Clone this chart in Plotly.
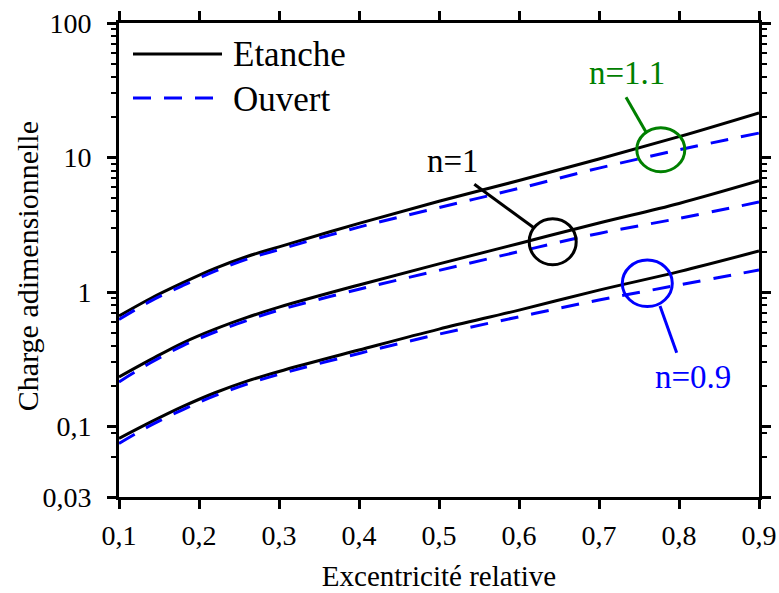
import plotly.graph_objects as go

# ---- data ----
x_ecc = [0.1, 0.14, 0.18, 0.22, 0.26, 0.3, 0.4, 0.5, 0.6, 0.7, 0.8, 0.9]

etanche_n11 = [0.664, 0.90, 1.175, 1.50, 1.84, 2.17, 3.24, 4.73, 6.75, 9.75, 14.3, 21.5]
ouvert_n11 = [0.627, 0.86, 1.12, 1.43, 1.76, 2.07, 3.04, 4.25, 5.90, 8.35, 11.4, 15.2]

etanche_n1 = [0.234, 0.316, 0.420, 0.530, 0.648, 0.773, 1.13, 1.62, 2.30, 3.26, 4.56, 6.72]
ouvert_n1 = [0.215, 0.300, 0.400, 0.505, 0.615, 0.735, 1.05, 1.45, 2.0, 2.73, 3.53, 4.67]

etanche_n09 = [0.0817, 0.1084, 0.1413, 0.1786, 0.218, 0.257, 0.371, 0.531, 0.735, 1.035, 1.42, 2.02]
ouvert_n09 = [0.075, 0.1025, 0.134, 0.170, 0.207, 0.245, 0.35, 0.487, 0.655, 0.873, 1.13, 1.46]

y_tickvals = [0.03, 0.1, 1, 10, 100]
y_ticktext = ["0,03", "0,1", "1", "10", "100"]
x_tickvals = [0.1, 0.2, 0.3, 0.4, 0.5, 0.6, 0.7, 0.8, 0.9]
x_ticktext = ["0,1", "0,2", "0,3", "0,4", "0,5", "0,6", "0,7", "0,8", "0,9"]
y_minor = [0.06, 0.09] + [m * 10 ** e for e in (-1, 0, 1) for m in range(2, 10)]

FONT = "Liberation Serif, Times New Roman, serif"
BLACK = "#000000"
BLUE = "#0000FF"
GREEN = "#008000"
DASH = "18px,13px"

W, H = 779, 593
L, R, T, B = 119, 759, 23, 497


def px(x):
    return (x - L) / (R - L)


def py(y):
    return (B - y) / (B - T)


fig = go.Figure()
series = [
    (etanche_n11, ouvert_n11, "n=1.1"),
    (etanche_n1, ouvert_n1, "n=1"),
    (etanche_n09, ouvert_n09, "n=0.9"),
]
for et, ou, name in series:
    fig.add_trace(go.Scatter(x=x_ecc, y=et, mode="lines", name="Etanche " + name,
                             line=dict(color=BLACK, width=3, shape="spline", smoothing=1.0),
                             showlegend=False))
    fig.add_trace(go.Scatter(x=x_ecc, y=ou, mode="lines", name="Ouvert " + name,
                             line=dict(color=BLUE, width=3, dash=DASH, shape="spline", smoothing=1.0),
                             showlegend=False))

shapes = []
annotations = []

# custom legend (long line samples as in the reference)
shapes.append(dict(type="line", xref="paper", yref="paper", x0=px(133), x1=px(222), y0=py(54), y1=py(54),
                   line=dict(color=BLACK, width=3)))
shapes.append(dict(type="line", xref="paper", yref="paper", x0=px(133), x1=px(222), y0=py(98), y1=py(98),
                   line=dict(color=BLUE, width=3, dash=DASH)))
annotations.append(dict(text="Etanche", xref="paper", yref="paper", x=px(231), y=py(55),
                        xanchor="left", yanchor="middle", showarrow=False,
                        font=dict(family=FONT, size=35, color=BLACK)))
annotations.append(dict(text="Ouvert", xref="paper", yref="paper", x=px(231), y=py(99),
                        xanchor="left", yanchor="middle", showarrow=False,
                        font=dict(family=FONT, size=35, color=BLACK)))

# y-axis title (placed as in the reference, slightly below the plot centre)
annotations.append(dict(text="Charge adimensionnelle", xref="paper", yref="paper", x=px(27.5), y=py(266.7),
                        xanchor="center", yanchor="middle", textangle=-90, showarrow=False,
                        font=dict(family=FONT, size=30, color=BLACK)))


# circles and leader lines
def circle(cx, cy, rx, ry, color):
    return dict(type="circle", xref="paper", yref="paper",
                x0=px(cx - rx), x1=px(cx + rx), y0=py(cy + ry), y1=py(cy - ry),
                line=dict(color=color, width=3))


def seg(x0, y0, x1, y1, color):
    return dict(type="line", xref="paper", yref="paper", x0=px(x0), x1=px(x1), y0=py(y0), y1=py(y1),
                line=dict(color=color, width=3))


shapes.append(circle(552.7, 241.7, 23.5, 23, BLACK))
shapes.append(seg(474.3, 184.3, 533.5, 227.5, BLACK))
shapes.append(circle(660.8, 149.7, 24, 22, GREEN))
shapes.append(seg(626, 97.3, 646.7, 133.3, GREEN))
shapes.append(circle(647.3, 283.3, 25, 23.3, BLUE))
shapes.append(seg(660, 306, 676.7, 352.7, BLUE))

annotations.append(dict(text="n=1", xref="paper", yref="paper", x=px(453), y=py(161),
                        xanchor="center", yanchor="middle", showarrow=False,
                        font=dict(family=FONT, size=33, color=BLACK)))
annotations.append(dict(text="n=1.1", xref="paper", yref="paper", x=px(626.5), y=py(72.5),
                        xanchor="center", yanchor="middle", showarrow=False,
                        font=dict(family=FONT, size=33, color=GREEN)))
annotations.append(dict(text="n=0.9", xref="paper", yref="paper", x=px(693), y=py(376.5),
                        xanchor="center", yanchor="middle", showarrow=False,
                        font=dict(family=FONT, size=33, color=BLUE)))

fig.update_layout(
    width=W, height=H,
    margin=dict(l=L, r=W - R, t=T, b=H - B, pad=0, autoexpand=False),
    paper_bgcolor="white", plot_bgcolor="white",
    font=dict(family=FONT, color=BLACK),
    shapes=shapes, annotations=annotations,
    showlegend=False,
)
fig.update_xaxes(
    range=[0.1, 0.9], tickmode="array", tickvals=x_tickvals, ticktext=x_ticktext,
    ticks="outside", ticklen=9, tickwidth=3, tickcolor=BLACK,
    showline=True, linewidth=3, linecolor=BLACK, mirror="ticks",
    showgrid=False, zeroline=False, automargin=False,
    tickfont=dict(family=FONT, size=28, color=BLACK), ticklabelstandoff=2,
    title=dict(text="Excentricité relative", font=dict(family=FONT, size=29, color=BLACK), standoff=17),
)
fig.update_yaxes(
    type="log", range=[-1.5228787, 2], tickmode="array", tickvals=y_tickvals, ticktext=y_ticktext,
    ticks="outside", ticklen=9, tickwidth=3, tickcolor=BLACK,
    minor=dict(tickmode="array", tickvals=y_minor, ticks="outside", ticklen=5, tickwidth=2, tickcolor=BLACK),
    showline=True, linewidth=3, linecolor=BLACK, mirror="allticks",
    showgrid=False, zeroline=False, automargin=False,
    tickfont=dict(family=FONT, size=28, color=BLACK), ticklabelstandoff=10,
)

fig.write_html("out.html")
